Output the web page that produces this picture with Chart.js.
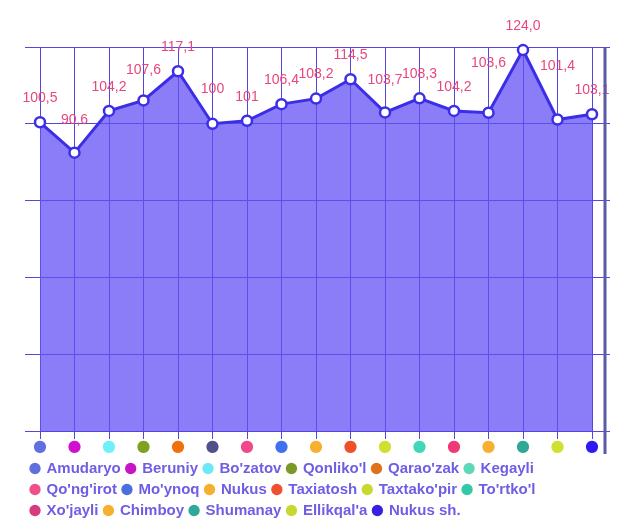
<!DOCTYPE html>
<html>
<head>
<meta charset="utf-8">
<script src="https://cdn.jsdelivr.net/npm/chart.js@4"></script>
<style>
  html, body { margin: 0; padding: 0; background: #fff; }
  #wrap { width: 627px; height: 520px; }
</style>
</head>
<body>
<div id="wrap"><canvas id="chart"></canvas></div>
<script>
    "use strict";

    var districts = ["Amudaryo", "Beruniy", "Bo'zatov", "Qonliko'l", "Qarao'zak", "Kegayli",
        "Qo'ng'irot", "Mo'ynoq", "Nukus", "Taxiatosh", "Taxtako'pir", "To'rtko'l",
        "Xo'jayli", "Chimboy", "Shumanay", "Ellikqal'a", "Nukus sh."];
    var values = [100.5, 90.6, 104.2, 107.6, 117.1, 100, 101, 106.4, 108.2, 114.5,
        103.7, 108.3, 104.2, 103.6, 124.0, 101.4, 103.1];
    var valueText = ["100,5", "90,6", "104,2", "107,6", "117,1", "100", "101", "106,4", "108,2",
        "114,5", "103,7", "108,3", "104,2", "103,6", "124,0", "101,4", "103,1"];
    var legendColors = ["#5f6fdc", "#c814c8", "#6ee8f5", "#7a9a28", "#e0701a", "#5ed8b8",
        "#f0508a", "#4a70e0", "#f5b030", "#ee5030", "#c8d830", "#35c8a8",
        "#d83a80", "#f5b030", "#30a898", "#c8d830", "#3820e0"];
    var dotColors = ["#6070e0", "#d010d0", "#70f0f8", "#80a020", "#f07010", "#50508a",
        "#f04888", "#4070f0", "#f8b030", "#f05028", "#d0e030", "#40d8b8",
        "#f03878", "#f8b030", "#30a898", "#d0e030", "#3018f0"];

    var gridColor = "#5546e0";
    var fontFamily = "'Liberation Sans', Arial, sans-serif";

    // value labels above the points, lifted so they clear the line segments
    var valueLabels = {
        id: 'valueLabels',
        afterDatasetsDraw: function (chart) {
            var ctx = chart.ctx;
            var pts = chart.getDatasetMeta(0).data;
            ctx.save();
            ctx.font = "14px " + fontFamily;
            ctx.fillStyle = "#e8467c";
            ctx.textAlign = "center";
            ctx.textBaseline = "middle";
            pts.forEach(function (pt, i) {
                var half = ctx.measureText(valueText[i]).width / 2 + 2;
                var lowest = pt.y;
                [pts[i - 1], pts[i + 1]].forEach(function (n) {
                    if (!n) return;
                    var lineY = pt.y + (n.y - pt.y) * half / Math.abs(n.x - pt.x);
                    lowest = Math.min(lowest, lineY);
                });
                var off = Math.max(24, pt.y - lowest + 14);
                ctx.fillText(valueText[i], pt.x, pt.y - off);
            });
            ctx.restore();
        }
    };

    // thick frame line on the right side
    var rightBar = {
        id: 'rightBar',
        afterDraw: function (chart) {
            var a = chart.chartArea;
            var ctx = chart.ctx;
            ctx.save();
            ctx.strokeStyle = "#5a5aa8";
            ctx.lineWidth = 3;
            ctx.beginPath();
            ctx.moveTo(a.right + 13, a.top);
            ctx.lineTo(a.right + 13, a.bottom + 23);
            ctx.stroke();
            ctx.restore();
        }
    };

    new Chart(document.getElementById("chart"), {
        type: "line",
        data: {
            labels: districts,
            datasets: [{
                data: values,
                borderColor: "#3b2ee6",
                borderWidth: 3,
                backgroundColor: "rgba(100, 80, 245, 0.75)",
                fill: "origin",
                tension: 0,
                pointRadius: 5,
                pointBorderWidth: 2.5,
                pointBackgroundColor: "#fff",
                pointBorderColor: "#3b2ee6",
                clip: false
            }]
        },
        options: {
            responsive: true,
            maintainAspectRatio: false,
            animation: false,
            layout: {
                padding: { top: 47, left: 25, right: 17, bottom: -8 }
            },
            scales: {
                x: {
                    offset: false,
                    grid: { color: gridColor, lineWidth: 1, tickLength: 8 },
                    border: { color: gridColor },
                    ticks: {
                        callback: function () { return "\u25CF"; },
                        color: dotColors,
                        padding: 0,
                        maxRotation: 0,
                        autoSkip: false,
                        font: { size: 16, lineHeight: 1, family: "'DejaVu Sans', sans-serif" }
                    }
                },
                y: {
                    min: 0,
                    max: 125,
                    grid: { color: gridColor, lineWidth: 1, tickLength: 15 },
                    border: { display: false },
                    ticks: { display: false, stepSize: 25 }
                },
                y2: {
                    position: "right",
                    min: 0,
                    max: 125,
                    grid: { color: gridColor, lineWidth: 1, tickLength: 18, drawOnChartArea: false },
                    border: { display: false },
                    ticks: { display: false, stepSize: 25 }
                }
            },
            plugins: {
                tooltip: { enabled: false },
                legend: {
                    position: "bottom",
                    align: "start",
                    onClick: null,
                    labels: {
                        usePointStyle: true,
                        boxWidth: 8,
                        boxHeight: 8,
                        padding: 6,
                        color: "#6f5ee4",
                        font: { size: 15, weight: "bold", family: fontFamily },
                        generateLabels: function () {
                            return districts.map(function (name, i) {
                                return {
                                    text: name,
                                    fillStyle: legendColors[i],
                                    strokeStyle: legendColors[i],
                                    lineWidth: 0,
                                    pointStyle: "circle",
                                    fontColor: "#6f5ee4",
                                    hidden: false,
                                    datasetIndex: 0
                                };
                            });
                        }
                    }
                }
            }
        },
        plugins: [valueLabels, rightBar]
    });
</script>
</body>
</html>
